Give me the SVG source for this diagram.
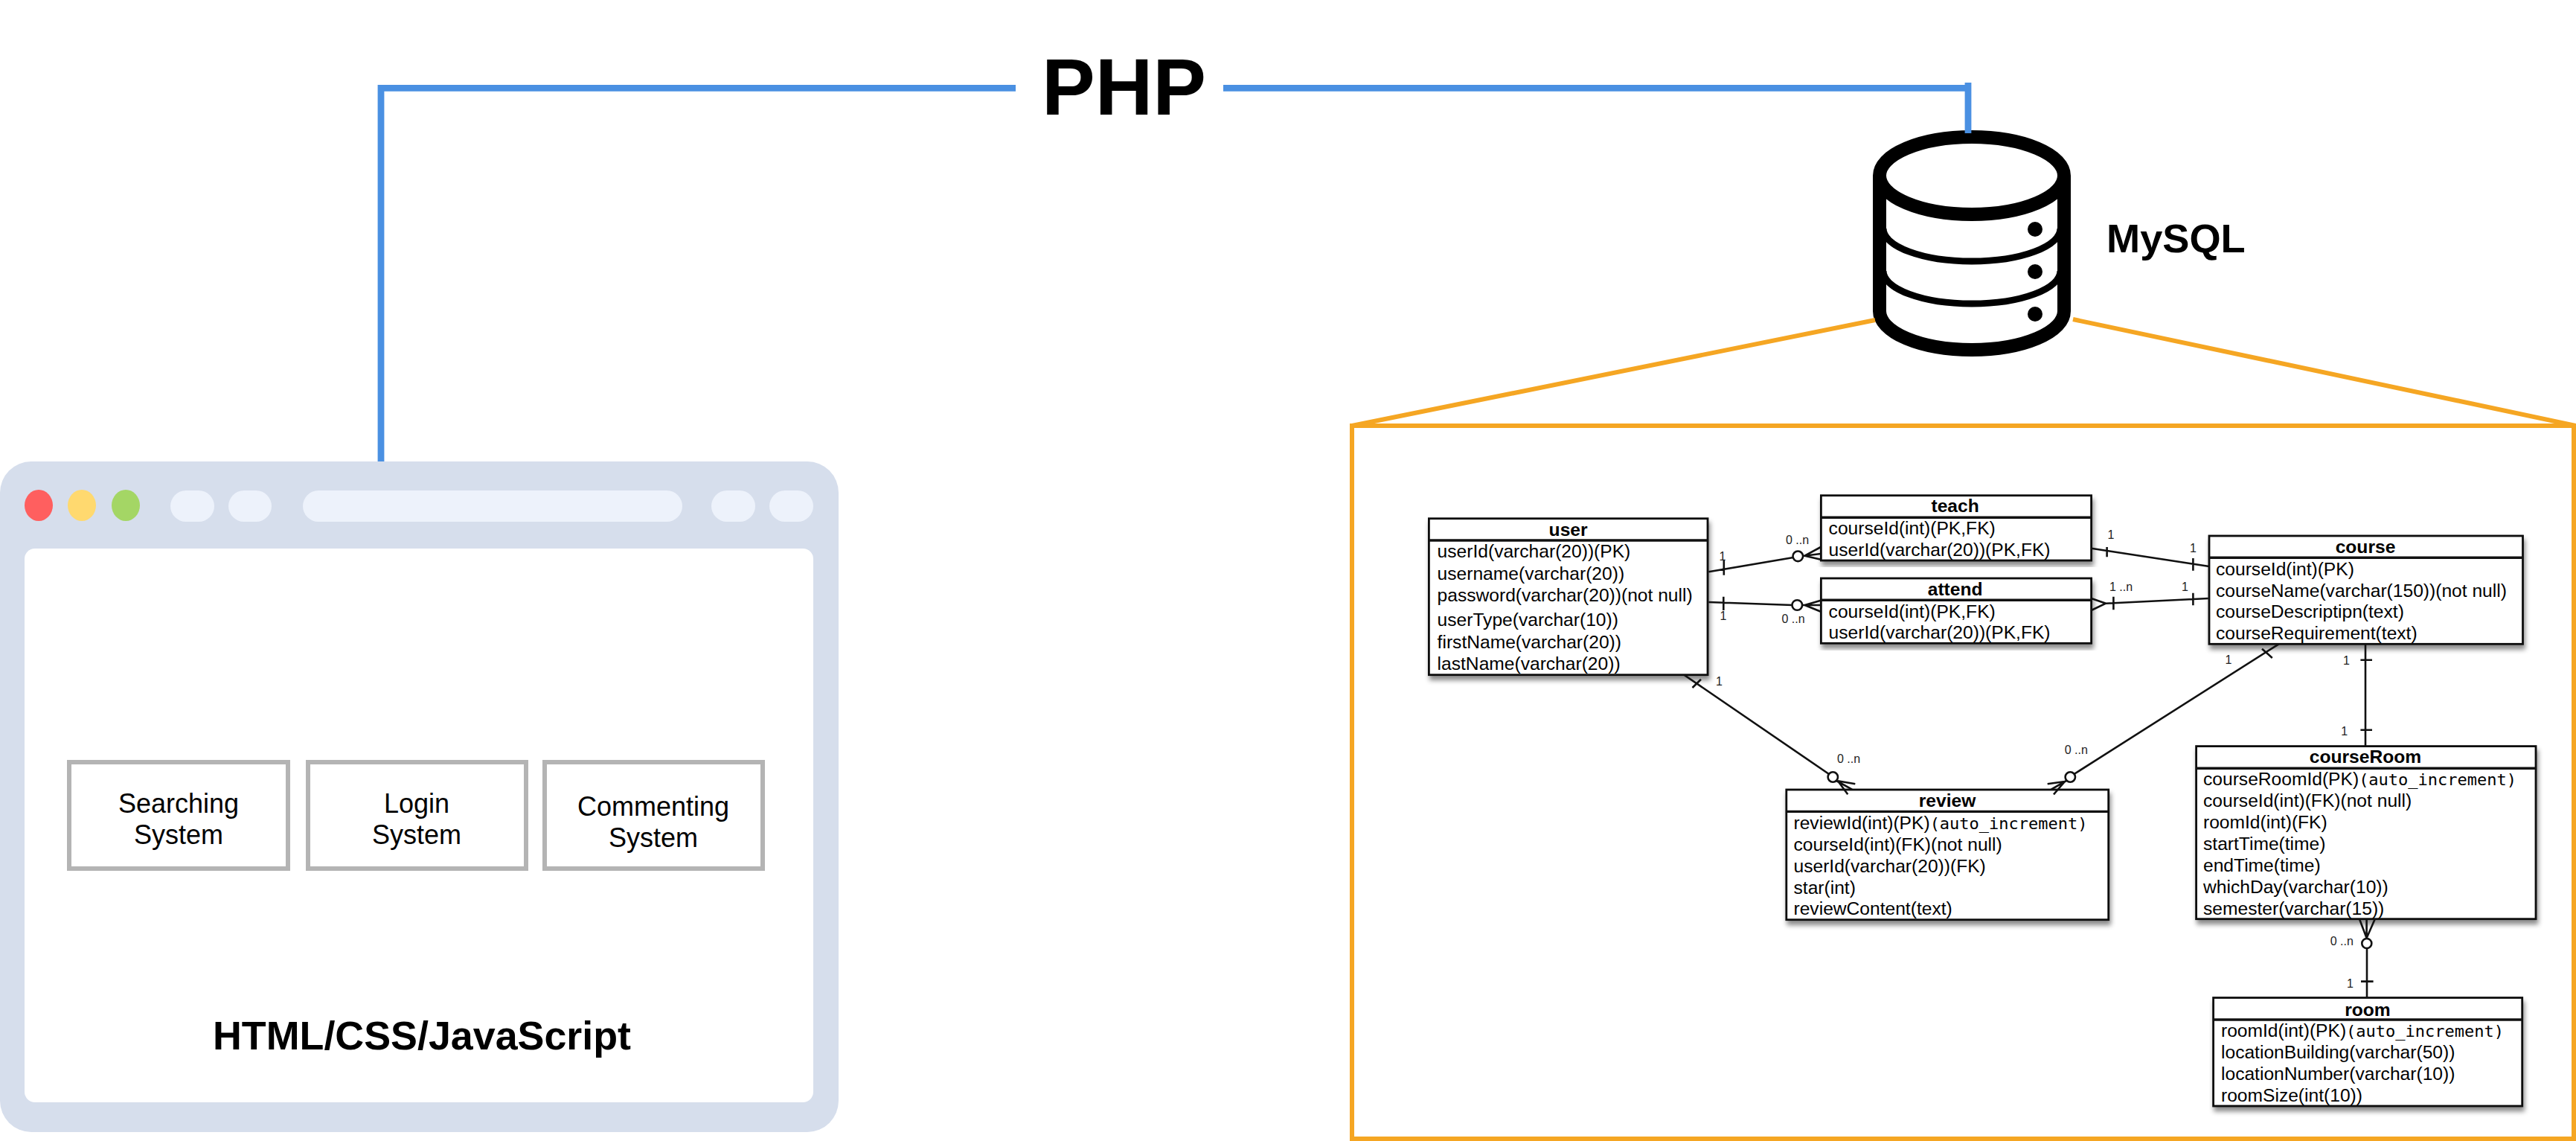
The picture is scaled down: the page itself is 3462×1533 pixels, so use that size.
<svg xmlns="http://www.w3.org/2000/svg" width="3462" height="1533" viewBox="0 0 3462 1533">
<style>
text{font-family:"Liberation Sans",Arial,sans-serif;fill:#000}
.sys{font-size:36px;text-anchor:middle}
.box{fill:#fff;stroke:#b4b4b4;stroke-width:6}
.pill{fill:#edf2fb}
.blue{fill:none;stroke:#4a90e2;stroke-width:8.8}
.orange{fill:none;stroke:#f5a623;stroke-width:6}
.db{fill:none;stroke:#000;stroke-width:18}
.dbt{fill:none;stroke:#000;stroke-width:9}
.t{fill:#fff;stroke:#111;stroke-width:2.8;filter:url(#sh)}
.h{stroke:#111;stroke-width:3.4}
.title{font-size:24.6px;font-weight:700;text-anchor:middle}
.row{font-size:24.6px}
.mono{font-family:"DejaVu Sans Mono",monospace;font-size:22px}
.l{fill:none;stroke:#111;stroke-width:2.6}
.c{fill:#fff;stroke:#111;stroke-width:2.6}
.lab{font-size:16px;fill:#222}
</style>
<defs>
<filter id="sh" x="-5%" y="-5%" width="110%" height="115%"><feDropShadow dx="2" dy="6" stdDeviation="3" flood-color="#000" flood-opacity="0.45"/></filter>
</defs>
<rect width="3462" height="1533" fill="#fff"/>

<g id="php"><text x="1400" y="153.5" font-size="107.5" font-weight="700">PHP</text></g>

<g id="browser">
<rect x="0" y="620" width="1127" height="901" rx="42" fill="#d6deec"/>
<rect x="33" y="737" width="1060" height="744" rx="14" fill="#fff"/>
<ellipse cx="52" cy="679" rx="19" ry="21" fill="#ff5f5f"/>
<ellipse cx="110" cy="679" rx="19" ry="21" fill="#ffd96f"/>
<ellipse cx="169" cy="679" rx="19" ry="21" fill="#a4d665"/>
<rect class="pill" x="229" y="659" width="59" height="42" rx="21"/>
<rect class="pill" x="307" y="659" width="58" height="42" rx="21"/>
<rect class="pill" x="407" y="659" width="510" height="42" rx="21"/>
<rect class="pill" x="956" y="659" width="59" height="42" rx="21"/>
<rect class="pill" x="1034" y="659" width="59" height="42" rx="21"/>
<text x="286" y="1410" font-size="53.8" font-weight="700">HTML/CSS/JavaScript</text>
</g>
<g id="searching"><rect class="box" x="93" y="1024" width="294" height="143"/><text class="sys" x="240" y="1092">Searching</text><text class="sys" x="240" y="1134">System</text></g>
<g id="login"><rect class="box" x="414" y="1024" width="293" height="143"/><text class="sys" x="560" y="1092">Login</text><text class="sys" x="560" y="1134">System</text></g>
<g id="commenting"><rect class="box" x="732" y="1024" width="293" height="143"/><text class="sys" x="878" y="1096">Commenting</text><text class="sys" x="878" y="1138">System</text></g>

<g id="mysql">
<path class="db" d="M2526 236V418A124 52 0 0 0 2774 418V236"/>
<ellipse class="db" cx="2650" cy="236" rx="124" ry="52"/>
<path class="dbt" d="M2531 307A119 44 0 0 0 2769 307M2531 364A119 44 0 0 0 2769 364"/>
<circle cx="2735" cy="308" r="10"/><circle cx="2735" cy="365" r="10"/><circle cx="2735" cy="422" r="10"/>
<text x="2831" y="339" font-size="54.2" font-weight="700">MySQL</text>
</g>

<g id="er-frame"><rect class="orange" x="1817" y="572" width="1642" height="958"/></g>

<g id="user">
<rect class="t" x="1920.4" y="696.7" width="374.6" height="210"/><path class="h" d="M1920.4 726H2295"/>
<text class="title" x="2107.6" y="720">user</text>
<text class="row" x="1931.6" y="749">userId(varchar(20))(PK)</text>
<text class="row" x="1931.6" y="779">username(varchar(20))</text>
<text class="row" x="1931.6" y="808">password(varchar(20))(not null)</text>
<text class="row" x="1931.6" y="841">userType(varchar(10))</text>
<text class="row" x="1931.6" y="870.7">firstName(varchar(20))</text>
<text class="row" x="1931.6" y="900">lastName(varchar(20))</text>
</g>
<g id="teach">
<rect class="t" x="2447.4" y="665.7" width="363.2" height="87.3"/><path class="h" d="M2447.4 695.3H2810.6"/>
<text class="title" x="2627.6" y="688">teach</text>
<text class="row" x="2457.6" y="718">courseId(int)(PK,FK)</text>
<text class="row" x="2457.6" y="747">userId(varchar(20))(PK,FK)</text>
</g>
<g id="attend">
<rect class="t" x="2447.4" y="777" width="363.2" height="87.3"/><path class="h" d="M2447.4 806.3H2810.6"/>
<text class="title" x="2627.6" y="800">attend</text>
<text class="row" x="2457.6" y="830">courseId(int)(PK,FK)</text>
<text class="row" x="2457.6" y="858.3">userId(varchar(20))(PK,FK)</text>
</g>
<g id="course">
<rect class="t" x="2969" y="720" width="421.5" height="145.3"/><path class="h" d="M2969 749.3H3390.5"/>
<text class="title" x="3179" y="743">course</text>
<text class="row" x="2978" y="772.7">courseId(int)(PK)</text>
<text class="row" x="2978" y="801.7">courseName(varchar(150))(not null)</text>
<text class="row" x="2978" y="830">courseDescriptipn(text)</text>
<text class="row" x="2978" y="859.3">courseRequirement(text)</text>
</g>
<g id="courseRoom">
<rect class="t" x="2951.6" y="1002.6" width="456.4" height="232.1"/><path class="h" d="M2951.6 1032.2H3408"/>
<text class="title" x="3179" y="1025">courseRoom</text>
<text class="row" x="2961" y="1055">courseRoomId(PK)<tspan class="mono">(auto_increment)</tspan></text>
<text class="row" x="2961" y="1084">courseId(int)(FK)(not null)</text>
<text class="row" x="2961" y="1113">roomId(int)(FK)</text>
<text class="row" x="2961" y="1142">startTime(time)</text>
<text class="row" x="2961" y="1171">endTime(time)</text>
<text class="row" x="2961" y="1199.8">whichDay(varchar(10))</text>
<text class="row" x="2961" y="1228.7">semester(varchar(15))</text>
</g>
<g id="review">
<rect class="t" x="2400.8" y="1061" width="432.9" height="174.7"/><path class="h" d="M2400.8 1090.4H2833.7"/>
<text class="title" x="2617" y="1084">review</text>
<text class="row" x="2410.5" y="1114">reviewId(int)(PK)<tspan class="mono">(auto_increment)</tspan></text>
<text class="row" x="2410.5" y="1143">courseId(int)(FK)(not null)</text>
<text class="row" x="2410.5" y="1171.5">userId(varchar(20))(FK)</text>
<text class="row" x="2410.5" y="1200.5">star(int)</text>
<text class="row" x="2410.5" y="1229.4">reviewContent(text)</text>
</g>
<g id="room">
<rect class="t" x="2974.6" y="1340.5" width="415.1" height="145.5"/><path class="h" d="M2974.6 1370H3389.7"/>
<text class="title" x="3182" y="1364.5">room</text>
<text class="row" x="2985" y="1392.7">roomId(int)(PK)<tspan class="mono">(auto_increment)</tspan></text>
<text class="row" x="2985" y="1422">locationBuilding(varchar(50))</text>
<text class="row" x="2985" y="1451">locationNumber(varchar(10))</text>
<text class="row" x="2985" y="1480">roomSize(int(10))</text>
</g>

<g id="connectors">
<path class="blue" d="M512 620V118.4H1365"/>
<path class="blue" d="M1644 118.4H2645M2645 111V179"/>
<path class="orange" d="M2520 430L1817 572M2786 429L3462 572"/>
<g id="rel-user-teach">
<path class="l" d="M2296.4 768.3L2410 749M2425.5 746.7L2447 735M2423 747L2447 744M2425.5 746.7L2447 751.7M2316.8 753V772.7"/>
<circle class="c" cx="2416.3" cy="747.3" r="6.8"/>
<text class="lab" x="2310.5" y="753">1</text><text class="lab" x="2400" y="730.7">0 ..n</text>
</g>
<g id="rel-user-attend">
<path class="l" d="M2296.4 809L2409 813M2425.5 813L2447 806.7M2422 813H2447M2425.5 813L2447 821.7M2316.3 801.7V820"/>
<circle class="c" cx="2415.3" cy="813" r="6.8"/>
<text class="lab" x="2311.5" y="833">1</text><text class="lab" x="2394.4" y="837.3">0 ..n</text>
</g>
<g id="rel-user-review">
<path class="l" d="M2263.3 906.7L2458 1040M2470 1049.3L2493.3 1053.3M2468 1049L2489 1060.7M2470 1049.3L2483.3 1067.3M2274.5 924L2286 912.7"/>
<circle class="c" cx="2463.3" cy="1044" r="6.7"/>
<text class="lab" x="2306" y="921">1</text><text class="lab" x="2469" y="1024.8">0 ..n</text>
</g>
<g id="rel-course-review">
<path class="l" d="M3062.6 865.3L2787.5 1040M2775 1050L2751.7 1053.3M2777 1049L2756.7 1060.7M2775 1050L2760 1067.3M3040 871.7L3053.8 884"/>
<circle class="c" cx="2782.3" cy="1044" r="6.7"/>
<text class="lab" x="2990.5" y="891.7">1</text><text class="lab" x="2774.7" y="1012.7">0 ..n</text>
</g>
<g id="rel-teach-course">
<path class="l" d="M2810.6 736.7L2969 761M2831.6 735V748.3M2947.4 750V766.7"/>
<text class="lab" x="2832.5" y="724">1</text><text class="lab" x="2943" y="742.3">1</text>
</g>
<g id="rel-attend-course">
<path class="l" d="M2967.8 804L2830.2 810.7M2830.2 810.7L2810.6 804M2830.2 810.7L2810.6 820M2840.4 801.7V819.3M2947.4 796.7V813.3"/>
<text class="lab" x="2835" y="794">1 ..n</text><text class="lab" x="2932" y="794">1</text>
</g>
<g id="rel-course-courseroom">
<path class="l" d="M3179 865V1003M3172.4 886.7H3188M3172.4 980.7H3188"/>
<text class="lab" x="3149" y="893.3">1</text><text class="lab" x="3146.3" y="987.7">1</text>
</g>
<g id="rel-courseroom-room">
<path class="l" d="M3171 1234.7L3180.6 1260.4L3191.8 1234.7M3180.6 1234.7V1261M3181 1274V1341M3173 1318.6H3189.6"/>
<circle class="c" cx="3180.8" cy="1267.5" r="6.5"/>
<text class="lab" x="3131.7" y="1270">0 ..n</text><text class="lab" x="3154" y="1327.4">1</text>
</g>
</g>
</svg>
